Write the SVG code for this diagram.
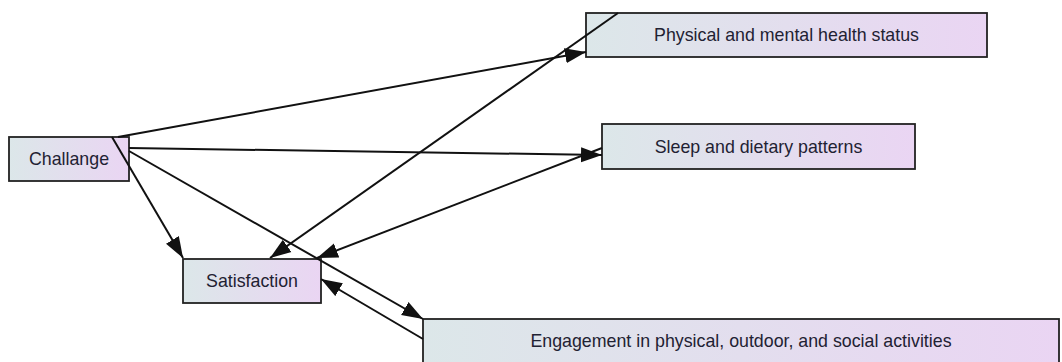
<svg xmlns="http://www.w3.org/2000/svg" width="1062" height="362" viewBox="0 0 1062 362">
  <style>
    .node rect { fill: url(#grad); stroke: #222; stroke-width: 1.8; }
    .node text { font-family: "Liberation Sans", Arial, sans-serif; font-size: 17.8px; fill: #1f2233; text-anchor: middle; dominant-baseline: central; }
    .edge { stroke: #111; stroke-width: 2; fill: none; marker-end: url(#arrow); }
  </style>
  <defs>
    <linearGradient id="grad" x1="0" y1="0" x2="1" y2="0">
      <stop offset="0" stop-color="#dce7e9"/>
      <stop offset="1" stop-color="#ead5f3"/>
    </linearGradient>
    <marker id="arrow" markerUnits="userSpaceOnUse" markerWidth="21" markerHeight="16" refX="21" refY="8" orient="auto">
      <path d="M0,0.5 L21,8 L0,15.5 z" fill="#111"/>
    </marker>
  </defs>
  <rect width="1062" height="362" fill="#ffffff"/>
  <g id="nodes">
    <g id="challange" class="node">
      <rect x="9" y="137" width="120" height="44"/>
      <text x="69" y="159">Challange</text>
    </g>
    <g id="satisfaction" class="node">
      <rect x="183" y="259" width="138" height="44"/>
      <text x="252" y="281">Satisfaction</text>
    </g>
    <g id="physical" class="node">
      <rect x="586" y="13" width="401" height="44"/>
      <text x="786.5" y="35">Physical and mental health status</text>
    </g>
    <g id="sleep" class="node">
      <rect x="602" y="124" width="313" height="45"/>
      <text x="758.5" y="146.5">Sleep and dietary patterns</text>
    </g>
    <g id="engagement" class="node">
      <rect x="423" y="319" width="636" height="46"/>
      <text x="741" y="341">Engagement in physical, outdoor, and social activities</text>
    </g>
  </g>
  <g id="connectors">
    <line class="edge" x1="118" y1="137" x2="586" y2="52"/>
    <line class="edge" x1="618" y1="13" x2="270" y2="258"/>
    <line class="edge" x1="129" y1="148" x2="602" y2="155"/>
    <line class="edge" x1="602" y1="148" x2="317" y2="258"/>
    <line class="edge" x1="112" y1="137" x2="183" y2="258"/>
    <line class="edge" x1="129" y1="151" x2="423" y2="319"/>
    <line class="edge" x1="423" y1="339" x2="321" y2="279"/>
  </g>
</svg>
